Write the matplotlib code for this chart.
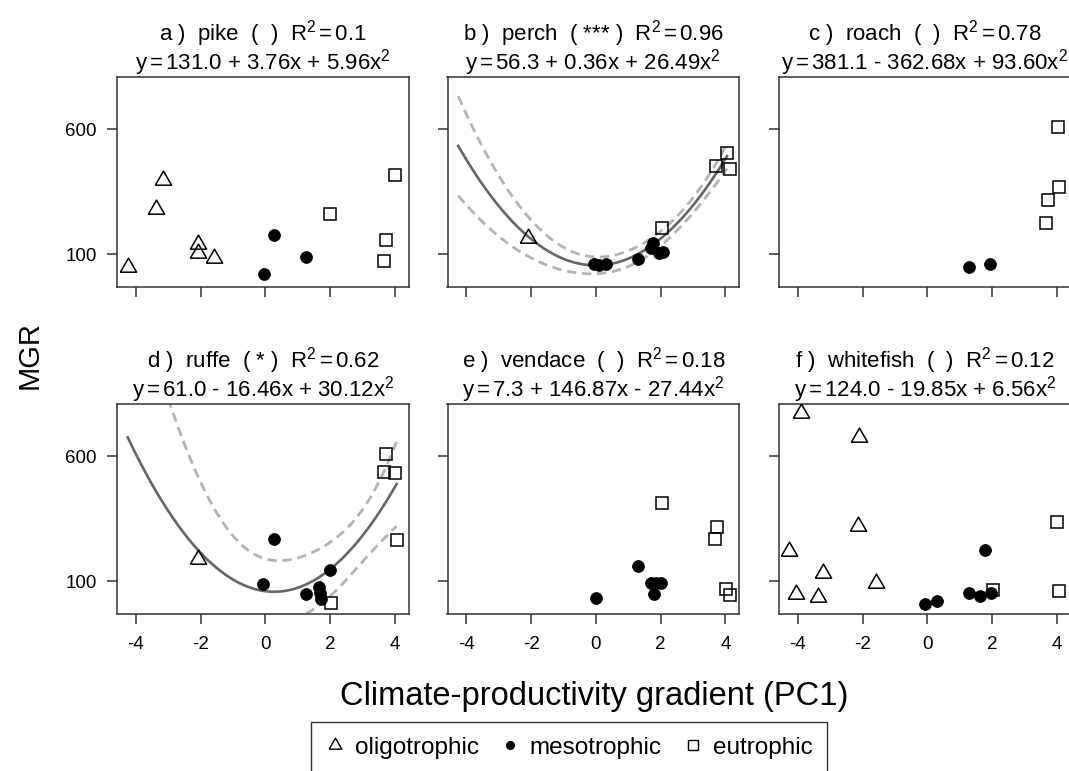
import numpy as np
import matplotlib
matplotlib.use('Agg')
import matplotlib.pyplot as plt
from matplotlib.lines import Line2D

plt.rcParams['font.family'] = 'Liberation Sans'
plt.rcParams['mathtext.fontset'] = 'custom'
plt.rcParams['mathtext.rm'] = 'Liberation Sans'
plt.rcParams['mathtext.it'] = 'Liberation Sans'
plt.rcParams['mathtext.default'] = 'regular'
plt.rcParams['axes.unicode_minus'] = False

# lake position on PC1, growth rate and trophic class (o / m / e) per species
pike_x = [-3.15, -3.38, -4.25, -2.07, -2.07, -1.58, 0.26, 1.27, -0.05, 4.00, 2.01, 3.72, 3.66]
pike_y = [398, 281, 48, 143, 107, 87, 177, 91, 22, 418, 262, 159, 73]
pike_g = ['o'] * 6 + ['m'] * 3 + ['e'] * 4

perch_x = [-2.10, -0.05, 0.10, 0.30, 1.31, 1.70, 1.75, 1.95, 2.08, 2.03, 3.72, 4.05, 4.13]
perch_y = [167, 60, 58, 63, 83, 125, 145, 105, 108, 206, 452, 506, 441]
perch_g = ['o'] + ['m'] * 8 + ['e'] * 4

roach_x = [1.28, 1.95, 4.02, 4.07, 3.71, 3.66]
roach_y = [49, 60, 607, 369, 318, 226]
roach_g = ['m'] * 2 + ['e'] * 4

ruffe_x = [-2.07, 0.27, -0.07, 1.99, 1.27, 1.65, 1.73, 1.70, 3.72, 3.66, 4.00, 4.08, 2.02]
ruffe_y = [190, 269, 91, 145, 48, 77, 31, 55, 607, 538, 534, 264, 13]
ruffe_g = ['o'] + ['m'] * 7 + ['e'] * 5

vendace_x = [0.00, 1.29, 1.70, 1.85, 2.01, 1.79, 2.04, 3.75, 3.69, 4.02, 4.15]
vendace_y = [35, 163, 95, 95, 95, 48, 412, 317, 271, 71, 44]
vendace_g = ['m'] * 6 + ['e'] * 5

whitefish_x = [-3.89, -2.11, -2.13, -4.27, -3.22, -1.59, -4.07, -3.39,
               -0.06, 0.30, 1.28, 1.78, 1.64, 1.98, 2.03, 4.00, 4.07]
whitefish_y = [772, 677, 322, 220, 132, 95, 48, 39, 9, 22, 55, 227, 42, 55, 66, 339, 62]
whitefish_g = ['o'] * 8 + ['m'] * 6 + ['e'] * 3

species = ['pike', 'perch', 'roach', 'ruffe', 'vendace', 'whitefish']
letters = ['a', 'b', 'c', 'd', 'e', 'f']
signif = ['', '***', '', '*', '', '']
r2 = [0.1, 0.96, 0.78, 0.62, 0.18, 0.12]
# quadratic fits y = b0 + b1*x + b2*x^2
b0 = [131.0, 56.3, 381.1, 61.0, 7.3, 124.0]
b1 = [3.76, 0.36, -362.68, -16.46, 146.87, -19.85]
b2 = [5.96, 26.49, 93.60, 30.12, -27.44, 6.56]

data = {
    'pike': (pike_x, pike_y, pike_g),
    'perch': (perch_x, perch_y, perch_g),
    'roach': (roach_x, roach_y, roach_g),
    'ruffe': (ruffe_x, ruffe_y, ruffe_g),
    'vendace': (vendace_x, vendace_y, vendace_g),
    'whitefish': (whitefish_x, whitefish_y, whitefish_g),
}

tri = [(-1, -0.577), (1, -0.577), (0, 1.155), (-1, -0.577)]
styles = {
    'o': dict(marker=tri, ms=13.5, mfc='none', mec='black', mew=1.1),
    'm': dict(marker='o', ms=8.6, mfc='black', mec='black', mew=0.5),
    'e': dict(marker='s', ms=8.0, mfc='none', mec='black', mew=1.1),
}
group_names = {'o': 'oligotrophic', 'm': 'mesotrophic', 'e': 'eutrophic'}


def t_quantile(df, z=1.959964):
    # Cornish-Fisher approximation of the 97.5% t quantile
    return z + (z**3 + z) / (4 * df) + (5 * z**5 + 16 * z**3 + 3 * z) / (96 * df**2)


def conf_band(x, y, coef, grid):
    x = np.asarray(x, float)
    y = np.asarray(y, float)
    X = np.column_stack([np.ones_like(x), x, x**2])
    df = len(x) - 3
    s2 = np.sum((y - X @ coef) ** 2) / df
    xtx_inv = np.linalg.inv(X.T @ X)
    G = np.column_stack([np.ones_like(grid), grid, grid**2])
    se = np.sqrt(s2 * np.einsum('ij,jk,ik->i', G, xtx_inv, G))
    fit = G @ coef
    t = t_quantile(df)
    return fit - t * se, fit + t * se


def sign(v):
    return '+' if v >= 0 else '-'


W, H = 1069, 771
fig = plt.figure(figsize=(W / 100, H / 100), dpi=100)

lefts = [117, 447.5, 779]
tops = [77, 404]
aw, ah = 291.5, 210
grid = np.linspace(-4.25, 4.05, 300)

for i, sp in enumerate(species):
    row, col = divmod(i, 3)
    ax = fig.add_axes([lefts[col] / W, 1 - (tops[row] + ah) / H, aw / W, ah / H])
    x, y, g = data[sp]
    x = np.array(x)
    y = np.array(y)
    g = np.array(g)

    if signif[i]:
        coef = np.array([b0[i], b1[i], b2[i]])
        lo, hi = conf_band(x, y, coef, grid)
        ax.plot(grid, lo, color='#b4b4b4', lw=2.0, ls=(0, (3.4, 2.0)), zorder=1)
        ax.plot(grid, hi, color='#b4b4b4', lw=2.0, ls=(0, (3.4, 2.0)), zorder=1)
        ax.plot(grid, coef[0] + coef[1] * grid + coef[2] * grid**2,
                color='#666666', lw=1.9, zorder=2)

    for key in ['o', 'm', 'e']:
        sel = g == key
        if sel.any():
            ax.plot(x[sel], y[sel], ls='none', zorder=3, **styles[key])

    ax.set_xlim(-4.58, 4.42)
    ax.set_ylim(-30, 808)
    ax.set_xticks([-4, -2, 0, 2, 4])
    ax.set_yticks([100, 600])
    ax.tick_params(direction='out', length=7.5, width=1.1, color='#333333',
                   labelsize=13.5)
    ax.tick_params(axis='x', pad=8)
    ax.tick_params(axis='y', pad=7)
    if row == 0:
        ax.set_xticklabels([])
    if col > 0:
        ax.set_yticklabels([])
    for s in ax.spines.values():
        s.set_linewidth(1.1)
        s.set_color('#333333')

    line1 = f"{letters[i]} )  {sp}  ( {signif[i]} )  R$^2$$\\,$=$\\,${r2[i]}"
    line2 = (f"y$\\,$=$\\,${b0[i]:.1f} {sign(b1[i])} {abs(b1[i]):.2f}x "
             f"{sign(b2[i])} {abs(b2[i]):.2f}x$^2$")
    ax.annotate(line1, xy=(0.5, 1), xycoords='axes fraction', xytext=(0, 26),
                textcoords='offset points', ha='center', va='baseline', fontsize=16)
    ax.annotate(line2, xy=(0.5, 1), xycoords='axes fraction', xytext=(0, 5.5),
                textcoords='offset points', ha='center', va='baseline', fontsize=16)

fig.text(30 / W, 1 - 355 / H, 'MGR', rotation=90, ha='center', va='center', fontsize=21)
fig.text(594 / W, 1 - 697 / H, 'Climate-productivity gradient (PC1)',
         ha='center', va='center', fontsize=23.5)

handles = [
    Line2D([], [], ls='none', marker=tri, ms=10.5, mfc='none', mec='black', mew=1.0),
    Line2D([], [], ls='none', marker='o', ms=5.5, mfc='black', mec='black'),
    Line2D([], [], ls='none', marker='s', ms=6.5, mfc='none', mec='black', mew=1.0),
]
leg = fig.legend(handles, [group_names[k] for k in ['o', 'm', 'e']], ncol=3,
                 loc='upper left', bbox_to_anchor=(311 / W, 1 - 722 / H),
                 frameon=True, fancybox=False, edgecolor='black', fontsize=17.5,
                 handlelength=0.8, handletextpad=0.4, columnspacing=0.9,
                 borderpad=0.6, borderaxespad=0)
leg.get_frame().set_linewidth(1.0)

fig.savefig('out.png', dpi=100)
